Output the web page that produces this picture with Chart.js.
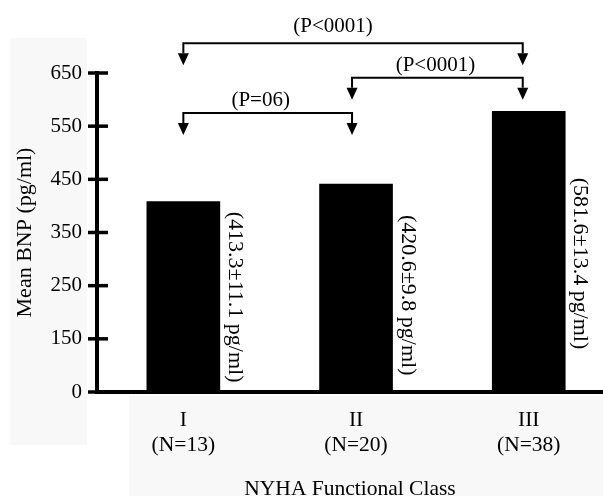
<!DOCTYPE html>
<html>
<head>
<meta charset="utf-8">
<script src="https://cdn.jsdelivr.net/npm/chart.js@4/dist/chart.umd.min.js"></script>
<style>
  html, body { margin: 0; padding: 0; background: #ffffff; }
  #wrap { width: 603px; height: 496px; position: relative; }
</style>
</head>
<body>
<div id="wrap"><canvas id="c" width="603" height="496"></canvas></div>
<script>
// ---- data ----
const classes = ['I', 'II', 'III'];
const sampleSizes = ['(N=13)', '(N=20)', '(N=38)'];
const meanBNP = [408, 441, 578];               // bar heights as drawn
const valueLabels = ['(413.3\u00b111.1 pg/ml)', '(420.6\u00b19.8 pg/ml)', '(581.6\u00b113.4 pg/ml)'];
const labelStart = [389, 383, 453];            // where each rotated label begins (value units)
const yTickValues = [50, 150, 250, 350, 450, 550, 650];
const yTickLabels = ['0', '150', '250', '350', '450', '550', '650'];
const bracketFrom = [0, 1, 0];
const bracketTo = [2, 2, 1];
const bracketLevel = [706, 641, 575];          // value units
const bracketText = ['(P<0001)', '(P<0001)', '(P=06)'];

// ---- styles ----
const SERIF = '"Liberation Serif", "Times New Roman", serif';
const arrowDx = [0, -4, -6];
const bracketTextDx = [-20, -2, -7];
const bracketTextDy = [-16.7, -12.7, -12.7];

const ctxEl = document.getElementById('c');

const overlay = {
  id: 'overlay',
  beforeDraw(chart) {
    const ctx = chart.ctx;
    ctx.save();
    ctx.fillStyle = '#ffffff';
    ctx.fillRect(0, 0, chart.width, chart.height);
    ctx.fillStyle = '#f8f8f8';
    ctx.fillRect(10, 38, 77, 407);
    ctx.fillRect(129, 396, 474, 100);
    ctx.restore();
  },
  afterDraw(chart) {
    const ctx = chart.ctx;
    const x = chart.scales.x, y = chart.scales.y;
    const left = chart.chartArea.left;
    ctx.save();
    // y tick marks crossing the axis
    ctx.strokeStyle = '#000';
    ctx.lineWidth = 3.5;
    y.ticks.forEach((t, i) => {
      const py = y.getPixelForTick(i);
      ctx.beginPath();
      ctx.moveTo(left - 9, py);
      ctx.lineTo(left + 11, py);
      ctx.stroke();
    });
    // brackets
    ctx.lineWidth = 2;
    ctx.fillStyle = '#000';
    ctx.font = '21px ' + SERIF;
    ctx.textAlign = 'center';
    ctx.textBaseline = 'middle';
    for (let b = 0; b < bracketFrom.length; b++) {
      const x1 = x.getPixelForValue(bracketFrom[b]) + arrowDx[bracketFrom[b]];
      const x2 = x.getPixelForValue(bracketTo[b]) + arrowDx[bracketTo[b]];
      const ly = y.getPixelForValue(bracketLevel[b]);
      const stemEnd = ly + 10;
      const tip = ly + 22;
      ctx.beginPath();
      ctx.moveTo(x1, stemEnd);
      ctx.lineTo(x1, ly);
      ctx.lineTo(x2, ly);
      ctx.lineTo(x2, stemEnd);
      ctx.stroke();
      [x1, x2].forEach(ax => {
        ctx.beginPath();
        ctx.moveTo(ax - 5.5, stemEnd);
        ctx.lineTo(ax + 5.5, stemEnd);
        ctx.lineTo(ax, tip);
        ctx.closePath();
        ctx.fill();
      });
      ctx.fillText(bracketText[b], (x1 + x2) / 2 + bracketTextDx[b], ly + bracketTextDy[b]);
    }
    // rotated value labels
    const meta = chart.getDatasetMeta(0);
    ctx.font = '22px ' + SERIF;
    ctx.textAlign = 'left';
    ctx.textBaseline = 'middle';
    meta.data.forEach((bar, i) => {
      const props = bar.getProps(['x', 'width'], true);
      const lx = props.x + props.width / 2 + 15;
      const ly = y.getPixelForValue(labelStart[i]);
      ctx.save();
      ctx.translate(lx, ly);
      ctx.rotate(Math.PI / 2);
      ctx.fillText(valueLabels[i], 0, 0);
      ctx.restore();
    });
    ctx.restore();
  }
};

new Chart(ctxEl, {
  type: 'bar',
  data: {
    datasets: [{
      data: classes.map((c, i) => ({ x: i, y: meanBNP[i] })),
      backgroundColor: '#000000',
      borderWidth: 0,
      barThickness: 73,
      base: 50
    }]
  },
  options: {
    responsive: false,
    animation: false,
    devicePixelRatio: 1,
    layout: { padding: { top: 73, right: 0, bottom: 0, left: 0 } },
    plugins: { legend: { display: false }, tooltip: { enabled: false } },
    scales: {
      x: {
        type: 'linear',
        offset: false,
        min: -0.5,
        max: 2.43,
        afterBuildTicks(scale) { scale.ticks = classes.map((c, i) => ({ value: i })); },
        afterFit(scale) { scale.height = 104; },
        grid: { display: false, drawTicks: false, offset: false },
        border: { display: true, color: '#000', width: 4 },
        ticks: {
          padding: 16,
          color: '#000',
          font: { family: SERIF, size: 21.5, lineHeight: 1.17 },
          maxRotation: 0,
          autoSkip: false,
          callback: (v) => [classes[v], sampleSizes[v]]
        },
        title: {
          display: true,
          text: 'NYHA Functional Class',
          color: '#000',
          font: { family: SERIF, size: 21.5, lineHeight: 1.2 },
          padding: { top: 0, bottom: -6 }
        }
      },
      y: {
        min: 50,
        max: 650,
        afterBuildTicks(scale) { scale.ticks = yTickValues.map(v => ({ value: v })); },
        afterFit(scale) { scale.width = 97; },
        grid: { display: false, drawTicks: false },
        border: { display: true, color: '#000', width: 4 },
        ticks: {
          padding: 15,
          color: '#000',
          font: { family: SERIF, size: 21 },
          callback: (v) => yTickLabels[yTickValues.indexOf(v)]
        },
        title: {
          display: true,
          text: 'Mean BNP (pg/ml)',
          color: '#000',
          font: { family: SERIF, size: 22, lineHeight: 1.2 },
          padding: { top: 12, bottom: 0 }
        }
      }
    }
  },
  plugins: [overlay]
});
</script>
</body>
</html>
